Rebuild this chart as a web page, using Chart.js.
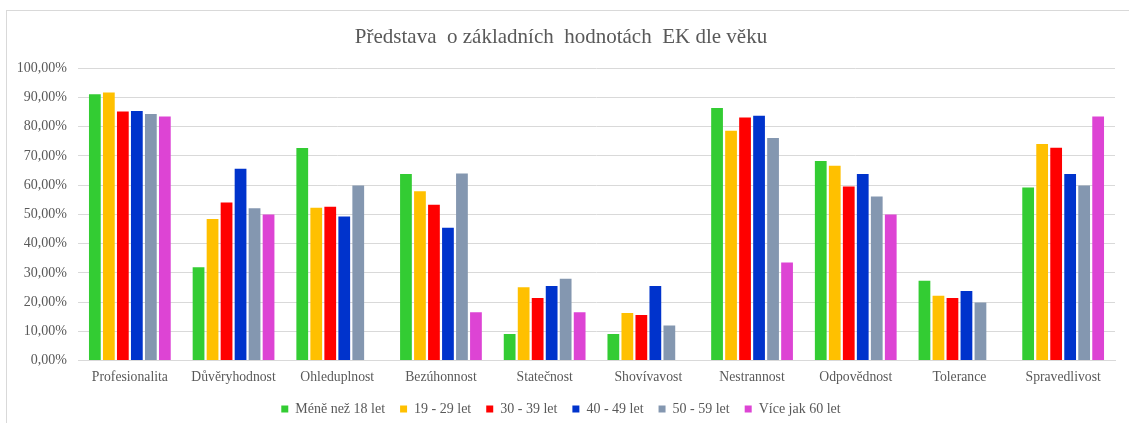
<!DOCTYPE html>
<html>
<head>
<meta charset="utf-8">
<script src="https://cdn.jsdelivr.net/npm/chart.js@4"></script>
<style>
  html, body { margin: 0; padding: 0; background: #fff; }
  body { width: 1129px; height: 423px; overflow: hidden; position: relative; }
  #frame { position: absolute; left: 6px; top: 10px; width: 1140px; height: 430px; border: 1px solid #d9d9d9; }
  #wrap { position: absolute; left: 7px; top: 11px; width: 1122px; height: 415px; }
</style>
</head>
<body>
<div id="frame"></div>
<div id="wrap"><canvas id="reportChart"></canvas></div>
<script>
const categories = ["Profesionalita", "Důvěryhodnost", "Ohleduplnost", "Bezúhonnost", "Statečnost",
  "Shovívavost", "Nestrannost", "Odpovědnost", "Tolerance", "Spravedlivost"];

const seriesNames = ["Méně než 18 let", "19 - 29 let", "30 - 39 let", "40 - 49 let", "50 - 59 let", "Více jak 60 let"];

const under18 = [91.1, 31.9, 72.7, 63.8, 9.1, 9.1, 86.4, 68.3, 27.3, 59.2];
const age19to29 = [91.7, 48.4, 52.3, 57.9, 25.1, 16.3, 78.6, 66.6, 22.2, 74.1];
const age30to39 = [85.2, 54.1, 52.6, 53.3, 21.4, 15.6, 83.1, 59.5, 21.4, 72.8];
const age40to49 = [85.4, 65.6, 49.3, 45.4, 25.5, 25.5, 83.7, 63.8, 23.8, 63.8];
const age50to59 = [84.3, 52.1, 59.9, 64.0, 28.0, 12.0, 76.1, 56.1, 19.9, 59.9];
const over60 = [83.5, 50.0, null, 16.5, 16.5, null, 33.5, 50.0, null, 83.5];

const yTicks = [0, 10, 20, 30, 40, 50, 60, 70, 80, 90, 100];

const colors = ["#33cc33", "#ffc000", "#ff0000", "#0033cc", "#8497b0", "#dd44d4"];
const allSeries = [under18, age19to29, age30to39, age40to49, age50to59, over60];

const serif = "'Liberation Serif', 'Times New Roman', serif";

let ctx = document.getElementById("reportChart").getContext("2d");

new Chart(ctx, {
  type: "bar",
  data: {
    labels: categories,
    datasets: allSeries.map((vals, i) => ({
      label: seriesNames[i],
      data: vals,
      backgroundColor: colors[i],
      borderWidth: 0,
      categoryPercentage: 0.81,
      barPercentage: 0.84
    }))
  },
  options: {
    responsive: true,
    maintainAspectRatio: false,
    animation: false,
    layout: { padding: { left: 0, right: 14, top: 0, bottom: 0 } },
    plugins: {
      title: {
        display: true,
        text: "Představa  o základních  hodnotách  EK dle věku",
        color: "#595959",
        font: { family: serif, size: 21, weight: "normal" },
        padding: { top: 14, bottom: 18 }
      },
      legend: {
        position: "bottom",
        labels: {
          color: "#595959",
          font: { family: serif, size: 14 },
          boxWidth: 7,
          boxHeight: 7,
          padding: 15
        }
      },
      tooltip: { enabled: false }
    },
    scales: {
      x: {
        grid: { display: false },
        border: { color: "#d9d9d9", width: 1 },
        ticks: { color: "#595959", font: { family: serif, size: 13.7 }, padding: 1, maxRotation: 0 }
      },
      y: {
        min: 0,
        max: 100,
        afterFit: (scale) => { scale.width = 71; },
        afterBuildTicks: (scale) => { scale.ticks = yTicks.map(v => ({ value: v })); },
        grid: { color: "#d9d9d9", drawTicks: false },
        border: { display: false },
        ticks: {
          color: "#595959",
          font: { family: serif, size: 14 },
          padding: 11,
          callback: (v) => v.toFixed(2).replace(".", ",") + "%"
        }
      }
    }
  }
});
</script>
</body>
</html>
